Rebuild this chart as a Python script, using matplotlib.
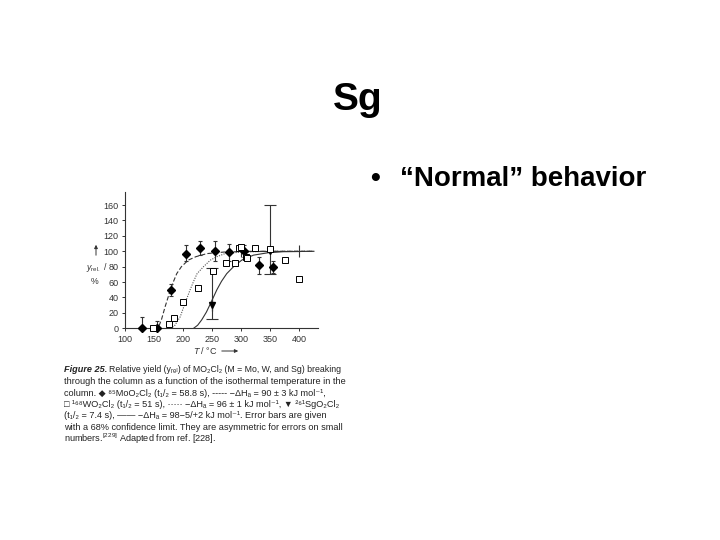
import matplotlib
matplotlib.use('Agg')
import matplotlib.pyplot as plt

plt.rcParams['font.family'] = ['Liberation Sans', 'DejaVu Sans']
plt.rcParams['mathtext.fontset'] = 'custom'
plt.rcParams['mathtext.rm'] = 'Liberation Sans'
plt.rcParams['mathtext.it'] = 'Liberation Sans:italic'
plt.rcParams['mathtext.bf'] = 'Liberation Sans:bold'

# MoO2Cl2 (filled diamonds)
T_mo = [130, 155, 179, 205, 229, 254, 279, 304, 330, 355]
y_mo = [0, 0, 50, 97, 104, 101, 99, 100, 82, 79]
mo_err_lo = [0, 0, 8, 10, 9, 13, 11, 8, 12, 7]
mo_err_hi = [15, 9, 8, 11, 10, 12, 11, 8, 10, 8]

# WO2Cl2 (open squares)
T_w = [149, 175, 185, 199, 225, 251, 274, 290, 296, 300, 308, 310, 324, 350, 375, 400]
y_w = [0, 5, 13, 34, 52, 74, 85, 85, 104, 105, 93, 91, 104, 103, 89, 64]

# SgO2Cl2 (filled triangles)
T_sg = [250, 350]
y_sg = [30, 100]
sg_err_lo = [18, 30]
sg_err_hi = [48, 60]
sg_xerr = [0, 50]

# fitted curves
fit_mo_T = [150, 157, 163, 169, 174, 178, 183, 189, 197, 209, 222, 241, 270, 320, 425]
fit_mo_y = [0, 0, 12, 28, 40, 50, 60, 71, 80, 88.6, 93, 97, 99, 100, 100]
fit_w_T = [178, 185, 195, 203, 212, 218, 224, 235, 247, 258, 272, 300, 340, 425]
fit_w_y = [0, 3, 15, 32, 50, 61, 71, 80, 88.6, 93, 97, 99, 100, 100]
fit_sg_T = [218, 225, 232, 240, 247, 258, 266, 275, 288, 301, 321, 345, 372, 425]
fit_sg_y = [0, 4, 11, 21, 32, 50, 61, 71, 81, 88.6, 95, 98, 99.5, 100]

W, H = 720, 540


def px(x, y):
    return x / W, 1 - y / H


fig = plt.figure(figsize=(7.2, 5.4), dpi=100)
fig.patch.set_facecolor('white')

# slide title and bullet
fig.text(*px(333, 110), 'Sg', fontsize=28, fontweight='bold', va='baseline', ha='left')
fig.text(*px(375, 186), '•', fontsize=20, fontweight='bold', va='baseline', ha='center')
fig.text(*px(400, 186), '“Normal” behavior', fontsize=20, fontweight='bold', va='baseline', ha='left')

ax = fig.add_axes([125 / W, 1 - 328.3 / H, 193 / W, (328.3 - 192) / H])
ax.set_xlim(100, 432)
ax.set_ylim(0, 177)

dark = '#333333'
ax.plot(fit_mo_T, fit_mo_y, color=dark, lw=0.8, ls=(0, (4, 2)))
ax.plot(fit_w_T, fit_w_y, color='#555555', lw=0.8, ls=(0, (1, 1.2)))
ax.plot(fit_sg_T, fit_sg_y, color=dark, lw=0.8)

ax.errorbar(T_mo, y_mo, yerr=[mo_err_lo, mo_err_hi], fmt='D', ms=4, color='black',
            ecolor=dark, elinewidth=0.8, capsize=1.5, capthick=0.8, clip_on=False, zorder=4)
ax.plot(T_w, y_w, 's', ms=3.8, mfc='white', mec='black', mew=0.7, clip_on=False, zorder=5)
ax.errorbar(T_sg, y_sg, yerr=[sg_err_lo, sg_err_hi], xerr=sg_xerr, fmt='v', ms=5, color='black',
            ecolor=dark, elinewidth=0.8, capsize=4, capthick=0.8, clip_on=False, zorder=4)

ax.set_xticks([100, 150, 200, 250, 300, 350, 400])
ax.set_yticks(range(0, 161, 20))
ax.tick_params(direction='out', length=2.5, width=0.7, labelsize=6.5, colors=dark, pad=2)
for s in ['top', 'right']:
    ax.spines[s].set_visible(False)
for s in ['left', 'bottom']:
    ax.spines[s].set_color(dark)
    ax.spines[s].set_linewidth(0.8)

# axis labels in the book style
fig.text(*px(205, 351), '$T$ / °C', fontsize=6.5, color=dark, ha='center', va='center')
fig.add_artist(matplotlib.patches.FancyArrowPatch(px(219, 351), px(241, 351), transform=fig.transFigure,
                                                  arrowstyle='-|>', mutation_scale=5, color=dark, lw=0.7))
fig.add_artist(matplotlib.patches.FancyArrowPatch(px(96, 258), px(96, 242), transform=fig.transFigure,
                                                  arrowstyle='-|>', mutation_scale=5, color=dark, lw=0.7))
fig.text(*px(97, 268), r'$y_{\rm rel.}$ /', fontsize=6.3, color=dark, ha='center', va='center')
fig.text(*px(95, 281), '%', fontsize=6.3, color=dark, ha='center', va='center')

# caption
cap_font = ['Liberation Sans', 'DejaVu Sans']
cap_size = 6.6
line_y = [370, 381.7, 393, 404.3, 416, 427.3, 438.7]
fig.text(*px(64, line_y[0]), 'Figure 25.', fontsize=cap_size, fontweight='bold', fontstyle='italic',
         family=cap_font, va='center', ha='left', color='#222222')
caption = [
    'Relative yield (yᵣₑₗ) of MO₂Cl₂ (M = Mo, W, and Sg) breaking',
    'through the column as a function of the isothermal temperature in the',
    'column. ◆ ⁸⁵MoO₂Cl₂ (t₁/₂ = 58.8 s), ----- −ΔHₐ = 90 ± 3 kJ mol⁻¹,',
    '□ ¹⁶⁸WO₂Cl₂ (t₁/₂ = 51 s), ····· −ΔHₐ = 96 ± 1 kJ mol⁻¹, ▼ ²⁶¹SgO₂Cl₂',
    '(t₁/₂ = 7.4 s), —— −ΔHₐ = 98−5/+2 kJ mol⁻¹. Error bars are given',
    'with a 68% confidence limit. They are asymmetric for errors on small',
    r'numbers.$^{[229]}$ Adapted from ref. [228].',
]
for i, line in enumerate(caption):
    x0 = 109 if i == 0 else 64
    size = cap_size - 0.3 if i == 0 else cap_size
    fig.text(*px(x0, line_y[i]), line, fontsize=size, family=cap_font, va='center', ha='left',
             color='#222222')

fig.savefig('out.png', dpi=100, facecolor='white')
